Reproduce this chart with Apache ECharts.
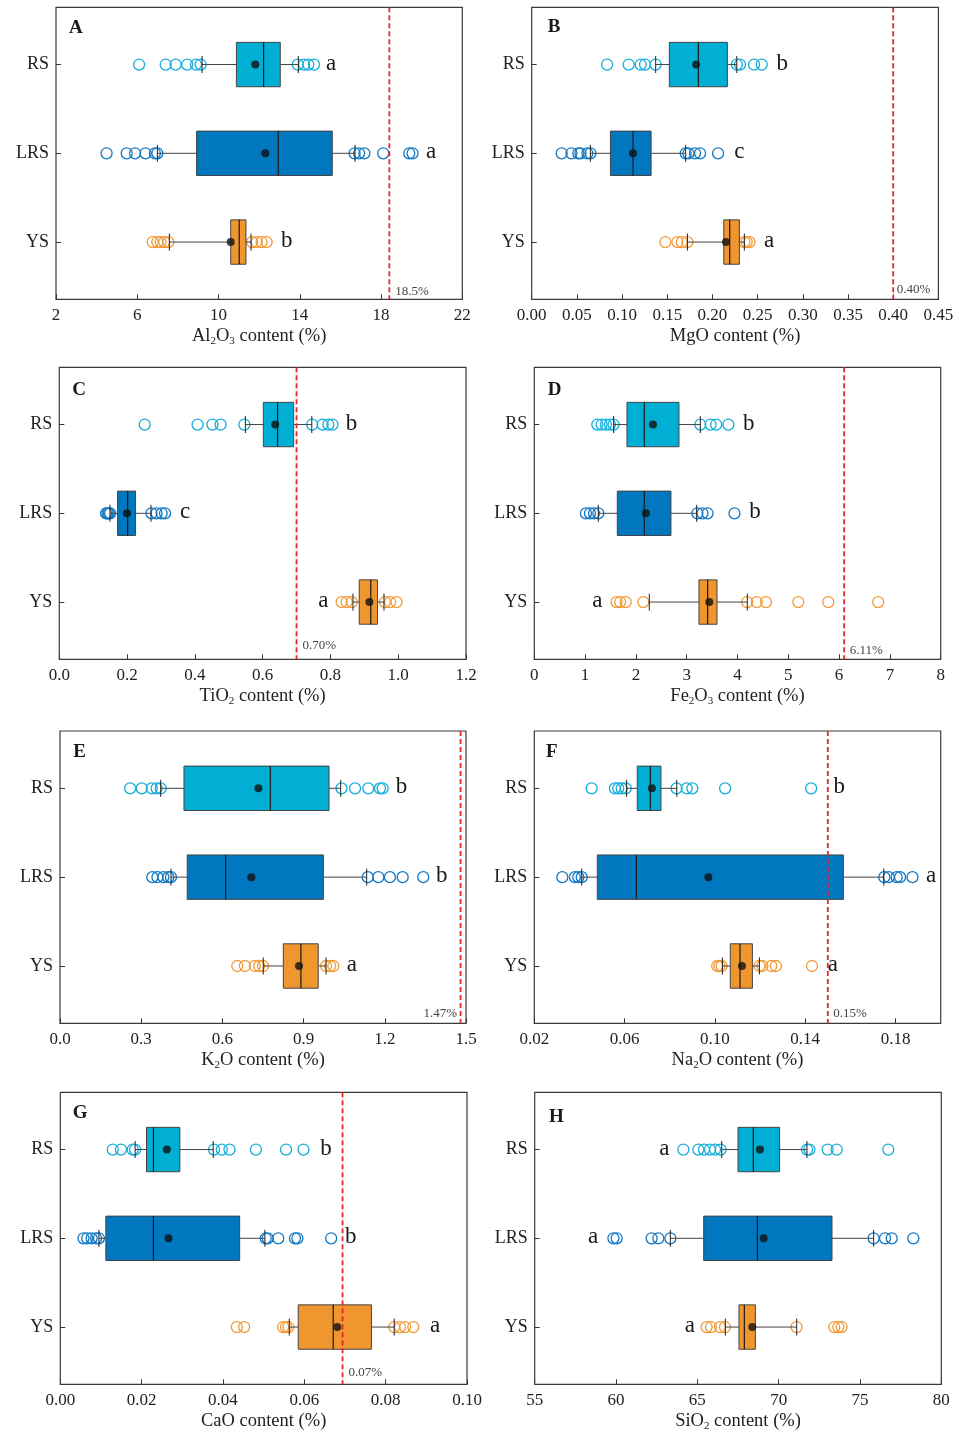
<!DOCTYPE html>
<html><head><meta charset="utf-8">
<script src="https://cdn.jsdelivr.net/npm/echarts@6/dist/echarts.min.js"></script>
<style>html,body{margin:0;padding:0;background:#fff}#c{width:965px;height:1433px}</style>
</head><body><div id="c"></div>
<script>
// ---------- DATA ----------
const groups = ['RS', 'LRS', 'YS'];
const groupY = [3, 2, 1];

// box stats per group: [lower whisker, Q1, median, Q3, upper whisker], order RS, LRS, YS
const boxA = [[9.19, 10.88, 12.22, 13.04, 13.93], [6.99, 8.92, 12.94, 15.60, 16.72], [7.58, 10.60, 11.02, 11.35, 11.60]];
const meanA = [11.81, 12.30, 10.60];
const outA = [[6.09, 7.40, 7.89, 8.46, 8.89, 9.12, 13.90, 14.21, 14.42, 14.70],
              [4.49, 5.48, 5.89, 6.41, 6.87, 6.99, 16.70, 16.92, 17.18, 18.11, 19.39, 19.55],
              [6.76, 6.99, 7.15, 7.33, 7.53, 11.65, 11.88, 12.12, 12.37]];
const sigA = ['a', 'a', 'b'];
const refA = 18.41, refLabelA = '18.5%';
const ticksA = [2, 6, 10, 14, 18, 22];

const boxB = [[0.1372, 0.1523, 0.1844, 0.2165, 0.2269], [0.0649, 0.0871, 0.1121, 0.1321, 0.1704], [0.1723, 0.2125, 0.2191, 0.2298, 0.2353]];
const meanB = [0.1819, 0.1121, 0.2150];
const outB = [[0.0834, 0.1073, 0.1206, 0.1254, 0.1370, 0.2270, 0.2305, 0.2460, 0.2545],
              [0.0332, 0.0439, 0.0516, 0.0540, 0.0616, 0.0650, 0.1704, 0.1734, 0.1807, 0.1863, 0.2062],
              [0.1479, 0.1612, 0.1660, 0.1723, 0.2353, 0.2379, 0.2409]];
const sigB = ['b', 'c', 'a'];
const refB = 0.40, refLabelB = '0.40%';
const ticksB = [0, 0.05, 0.10, 0.15, 0.20, 0.25, 0.30, 0.35, 0.40, 0.45];

const boxC = [[0.549, 0.602, 0.644, 0.6915, 0.745], [0.1495, 0.172, 0.2016, 0.225, 0.2705], [0.8665, 0.885, 0.919, 0.939, 0.958]];
const meanC = [0.637, 0.1997, 0.915];
const outC = [[0.252, 0.408, 0.452, 0.476, 0.546, 0.746, 0.777, 0.794, 0.806],
              [0.138, 0.142, 0.146, 0.150, 0.272, 0.287, 0.302, 0.312],
              [0.833, 0.848, 0.863, 0.961, 0.976, 0.995]];
const sigC = ['b', 'c', 'a'];
const refC = 0.70, refLabelC = '0.70%';
const ticksC = [0, 0.2, 0.4, 0.6, 0.8, 1.0, 1.2];

const boxD = [[1.562, 1.824, 2.165, 2.848, 3.268], [1.26, 1.634, 2.165, 2.690, 3.196], [2.264, 3.241, 3.412, 3.596, 4.193]];
const meanD = [2.336, 2.198, 3.445];
const outD = [[1.24, 1.325, 1.41, 1.49, 1.56, 3.27, 3.47, 3.58, 3.82],
              [1.017, 1.096, 1.175, 1.26, 3.21, 3.31, 3.41, 3.94],
              [1.62, 1.69, 1.80, 2.146, 4.19, 4.38, 4.56, 5.197, 5.787, 6.77]];
const sigD = ['b', 'b', 'a'];
const refD = 6.10, refLabelD = '6.11%';
const ticksD = [0, 1, 2, 3, 4, 5, 6, 7, 8];

const boxE = [[0.372, 0.458, 0.777, 0.994, 1.037], [0.410, 0.470, 0.612, 0.973, 1.133], [0.751, 0.825, 0.890, 0.954, 0.983]];
const meanE = [0.733, 0.707, 0.883];
const outE = [[0.259, 0.302, 0.339, 0.357, 0.372, 1.040, 1.090, 1.139, 1.182, 1.192],
              [0.341, 0.360, 0.382, 0.400, 0.410, 1.137, 1.176, 1.219, 1.266, 1.342],
              [0.655, 0.683, 0.720, 0.736, 0.750, 0.983, 0.998, 1.010]];
const sigE = ['b', 'b', 'a'];
const refE = 1.48, refLabelE = '1.47%';
const ticksE = [0, 0.3, 0.6, 0.9, 1.2, 1.5];

const boxF = [[0.0609, 0.0656, 0.0714, 0.0761, 0.0831], [0.0410, 0.0479, 0.0652, 0.1569, 0.1748], [0.1033, 0.1068, 0.1111, 0.1166, 0.1197]];
const meanF = [0.0721, 0.0971, 0.1120];
const outF = [[0.0454, 0.0557, 0.0572, 0.0587, 0.0605, 0.0830, 0.0875, 0.0900, 0.1045, 0.1426],
              [0.0324, 0.0380, 0.0395, 0.0410, 0.1750, 0.1770, 0.1805, 0.1820, 0.1875],
              [0.1010, 0.1020, 0.1030, 0.1197, 0.1210, 0.1250, 0.1270, 0.1430]];
const sigF = ['b', 'a', 'a'];
const refF = 0.15, refLabelF = '0.15%';
const ticksF = [0.02, 0.06, 0.10, 0.14, 0.18];

const boxG = [[0.0184, 0.0212, 0.0229, 0.0294, 0.0376], [0.0095, 0.0112, 0.0229, 0.0441, 0.0503], [0.0563, 0.0585, 0.0671, 0.0765, 0.0821]];
const meanG = [0.0262, 0.0266, 0.0681];
const outG = [[0.0129, 0.0149, 0.0178, 0.0184, 0.0378, 0.0397, 0.0416, 0.0481, 0.0555, 0.0598],
              [0.0057, 0.0066, 0.0077, 0.0088, 0.0095, 0.0505, 0.0510, 0.0536, 0.0577, 0.0583, 0.0666],
              [0.0434, 0.0452, 0.0548, 0.0555, 0.0561, 0.0821, 0.0835, 0.0848, 0.0868]];
const sigG = ['b', 'b', 'a'];
const refG = 0.0694, refLabelG = '0.07%';
const ticksG = [0, 0.02, 0.04, 0.06, 0.08, 0.10];

const boxH = [[66.5, 67.5, 68.44, 70.06, 71.74], [63.34, 65.39, 68.69, 73.28, 75.84], [66.72, 67.56, 67.89, 68.57, 71.11]];
const meanH = [68.85, 69.08, 68.38];
const outH = [[64.14, 65.06, 65.41, 65.78, 66.09, 66.43, 71.74, 71.89, 73.01, 73.57, 76.74],
              [59.84, 60.04, 62.19, 62.60, 63.34, 75.84, 76.54, 76.95, 78.28],
              [65.57, 65.84, 66.39, 66.70, 71.10, 73.42, 73.67, 73.87]];
const sigH = ['a', 'a', 'a'];
const refH = null, refLabelH = '';
const ticksH = [55, 60, 65, 70, 75, 80];

// ---------- LAYOUT / STYLE ----------
const FONT = '"Liberation Serif", "Times New Roman", serif';
const fillColors = ['#00AFD3', '#0077BE', '#F0962F'];
const outColors = ['#16AFDA', '#1479C4', '#F29A36'];

const panels = [
  {key: 'A', box: boxA, mean: meanA, out: outA, sig: sigA, ref: refA, refLabel: refLabelA, ticks: ticksA, min: 2, max: 22, dec: 0, name: 'Al{s|2}O{s|3} content (%)'},
  {key: 'B', box: boxB, mean: meanB, out: outB, sig: sigB, ref: refB, refLabel: refLabelB, ticks: ticksB, min: 0, max: 0.45, dec: 2, name: 'MgO content (%)'},
  {key: 'C', box: boxC, mean: meanC, out: outC, sig: sigC, ref: refC, refLabel: refLabelC, ticks: ticksC, min: 0, max: 1.2, dec: 1, name: 'TiO{s|2} content (%)'},
  {key: 'D', box: boxD, mean: meanD, out: outD, sig: sigD, ref: refD, refLabel: refLabelD, ticks: ticksD, min: 0, max: 8, dec: 0, name: 'Fe{s|2}O{s|3} content (%)'},
  {key: 'E', box: boxE, mean: meanE, out: outE, sig: sigE, ref: refE, refLabel: refLabelE, ticks: ticksE, min: 0, max: 1.5, dec: 1, name: 'K{s|2}O content (%)'},
  {key: 'F', box: boxF, mean: meanF, out: outF, sig: sigF, ref: refF, refLabel: refLabelF, ticks: ticksF, min: 0.02, max: 0.20, dec: 2, name: 'Na{s|2}O content (%)'},
  {key: 'G', box: boxG, mean: meanG, out: outG, sig: sigG, ref: refG, refLabel: refLabelG, ticks: ticksG, min: 0, max: 0.10, dec: 2, name: 'CaO content (%)'},
  {key: 'H', box: boxH, mean: meanH, out: outH, sig: sigH, ref: refH, refLabel: refLabelH, ticks: ticksH, min: 55, max: 80, dec: 0, name: 'SiO{s|2} content (%)'}
];

// grid rectangles (px)
const grids = [
  {left: 56, top: 7.3, width: 406.3, height: 292},
  {left: 531.7, top: 7.3, width: 406.7, height: 292},
  {left: 59.3, top: 367.3, width: 406.7, height: 292},
  {left: 534.3, top: 367.3, width: 406.4, height: 292},
  {left: 60, top: 731, width: 406, height: 292.3},
  {left: 534.3, top: 731, width: 406.4, height: 292.3},
  {left: 60.3, top: 1092.3, width: 406.7, height: 292},
  {left: 534.7, top: 1092.3, width: 406.6, height: 292}
];
// panel letter placement (px)
const panelLetterPos = [[69, 27.7], [547.7, 26.7], [72.3, 390], [547.7, 390], [73.3, 751.7], [546, 751.7], [72.7, 1113.3], [549, 1116.7]];
// significance-letter anchors in axis units with side (r: text to the right of anchor, l: to the left)
const letterAnchor = [
  [[15.29, 'r'], [20.21, 'r'], [13.07, 'r']],
  [[0.271, 'r'], [0.224, 'r'], [0.257, 'r']],
  [[0.845, 'r'], [0.356, 'r'], [0.794, 'l']],
  [[4.11, 'r'], [4.23, 'r'], [1.34, 'l']],
  [[1.240, 'r'], [1.389, 'r'], [1.059, 'r']],
  [[0.1525, 'r'], [0.1935, 'r'], [0.1500, 'r']],
  [[0.0639, 'r'], [0.0700, 'r'], [0.0909, 'r']],
  [[63.28, 'l'], [58.91, 'l'], [64.86, 'l']]
];
// reference label placement: [side, dx px, dy px above bottom]
const refLabelPos = [['r', 6, 7.7], ['r', 3.5, 10], ['r', 6, 13.7], ['r', 5.5, 8.7], ['l', 3.5, 9.3], ['r', 5.5, 9.3], ['r', 6, 12], null];

// ---------- BUILD ----------
const chart = echarts.init(document.getElementById('c'), null, {renderer: 'canvas'});
const option = {
  backgroundColor: '#fff',
  animation: false,
  grid: [], xAxis: [], yAxis: [], series: [], graphic: []
};

panels.forEach((p, i) => {
  option.grid.push(Object.assign({
    show: true, borderColor: '#3a3a3a', borderWidth: 1.2, backgroundColor: 'transparent',
    containLabel: false, outerBoundsMode: 'none'
  }, grids[i]));

  option.xAxis.push({
    gridIndex: i, type: 'value', min: p.min, max: p.max,
    axisLine: {show: false}, splitLine: {show: false},
    axisTick: {show: true, inside: true, length: 5, customValues: p.ticks, lineStyle: {color: '#333', width: 1}},
    axisLabel: {customValues: p.ticks, formatter: v => Number(v).toFixed(p.dec), margin: 8,
      fontSize: 17, fontFamily: FONT, color: '#222', showMinLabel: true, showMaxLabel: true, hideOverlap: false},
    name: p.name, nameLocation: 'middle', nameGap: 27,
    nameTextStyle: {fontSize: 18.5, fontFamily: FONT, color: '#222', lineHeight: 20,
      rich: {s: {fontSize: 11, fontFamily: FONT, color: '#222', verticalAlign: 'bottom', lineHeight: 8}}}
  });
  option.yAxis.push({
    gridIndex: i, type: 'value', min: 0.355, max: 3.645,
    axisLine: {show: false}, splitLine: {show: false},
    axisTick: {show: true, inside: true, length: 5, customValues: groupY, lineStyle: {color: '#333', width: 1}},
    axisLabel: {customValues: groupY, formatter: v => groups[3 - Math.round(v)], margin: 7,
      fontSize: 18, fontFamily: FONT, color: '#222'}
  });

  // outliers
  p.out.forEach((arr, g) => {
    option.series.push({
      type: 'scatter', xAxisIndex: i, yAxisIndex: i, z: 2,
      symbol: 'circle', symbolSize: 11, silent: true,
      itemStyle: {color: 'rgba(0,0,0,0)', borderColor: outColors[g], borderWidth: 1.3, opacity: 1},
      data: arr.map(v => [v, groupY[g]])
    });
  });

  // boxes
  option.series.push({
    type: 'custom', xAxisIndex: i, yAxisIndex: i, z: 3, silent: true,
    encode: {x: [1, 2, 3, 4, 5], y: 0},
    data: p.box.map((b, g) => [groupY[g]].concat(b).concat([g])),
    renderItem: function (params, api) {
      const y = api.value(0);
      const g = api.value(6);
      const pl = api.coord([api.value(1), y]);
      const p1 = api.coord([api.value(2), y]);
      const pm = api.coord([api.value(3), y]);
      const p3 = api.coord([api.value(4), y]);
      const ph = api.coord([api.value(5), y]);
      const h = api.size([0, 0.25])[1];
      const cy = pl[1];
      const cap = 8.5;
      return {type: 'group', children: [
        {type: 'line', shape: {x1: pl[0], y1: cy, x2: p1[0], y2: cy}, style: {stroke: '#444', lineWidth: 1}},
        {type: 'line', shape: {x1: p3[0], y1: cy, x2: ph[0], y2: cy}, style: {stroke: '#444', lineWidth: 1}},
        {type: 'line', shape: {x1: pl[0], y1: cy - cap, x2: pl[0], y2: cy + cap}, style: {stroke: '#222', lineWidth: 1}},
        {type: 'line', shape: {x1: ph[0], y1: cy - cap, x2: ph[0], y2: cy + cap}, style: {stroke: '#222', lineWidth: 1}},
        {type: 'rect', shape: {x: p1[0], y: cy - h, width: p3[0] - p1[0], height: 2 * h},
          style: {fill: fillColors[g], stroke: '#444', lineWidth: 1}},
        {type: 'line', shape: {x1: pm[0], y1: cy - h, x2: pm[0], y2: cy + h}, style: {stroke: '#1a1a1a', lineWidth: 1.2}}
      ]};
    }
  });

  // means
  option.series.push({
    type: 'scatter', xAxisIndex: i, yAxisIndex: i, z: 4, silent: true,
    symbol: 'circle', symbolSize: 8, itemStyle: {color: '#111'},
    data: p.mean.map((v, g) => [v, groupY[g]])
  });

  // significance letters
  option.series.push({
    type: 'custom', xAxisIndex: i, yAxisIndex: i, z: 5, silent: true,
    encode: {x: 0, y: 1},
    data: letterAnchor[i].map((a, g) => [a[0], groupY[g], g]),
    renderItem: function (params, api) {
      const g = api.value(2);
      const pt = api.coord([api.value(0), api.value(1)]);
      const side = letterAnchor[i][g][1];
      return {type: 'text', x: pt[0], y: pt[1] - 1,
        style: {text: p.sig[g], font: '23px ' + FONT, fill: '#1a1a1a',
          textAlign: side === 'r' ? 'left' : 'right', textVerticalAlign: 'middle'}};
    }
  });

  // reference line
  if (p.ref !== null) {
    option.series.push({
      type: 'custom', xAxisIndex: i, yAxisIndex: i, z: 6, silent: true,
      encode: {x: 0, y: 1},
      data: [[p.ref, 1]],
      renderItem: function (params, api) {
        const cs = params.coordSys;
        const x = api.coord([api.value(0), 1])[0];
        const lp = refLabelPos[i];
        const bottom = cs.y + cs.height;
        return {type: 'group', children: [
          {type: 'line', shape: {x1: x, y1: cs.y, x2: x, y2: bottom},
            style: {stroke: '#E8232C', lineWidth: 1.8, lineDash: [5, 3]}},
          {type: 'text', x: lp[0] === 'r' ? x + lp[1] : x - lp[1], y: bottom - lp[2],
            style: {text: p.refLabel, font: '13px ' + FONT, fill: '#444',
              textAlign: lp[0] === 'r' ? 'left' : 'right', textVerticalAlign: 'middle'}}
        ]};
      }
    });
  }

  option.graphic.push({
    type: 'text', x: panelLetterPos[i][0], y: panelLetterPos[i][1], z: 10, silent: true,
    style: {text: p.key, font: 'bold 19px ' + FONT, fill: '#1a1a1a', textAlign: 'left', textVerticalAlign: 'middle'}
  });
});

chart.setOption(option);
</script>
</body></html>
